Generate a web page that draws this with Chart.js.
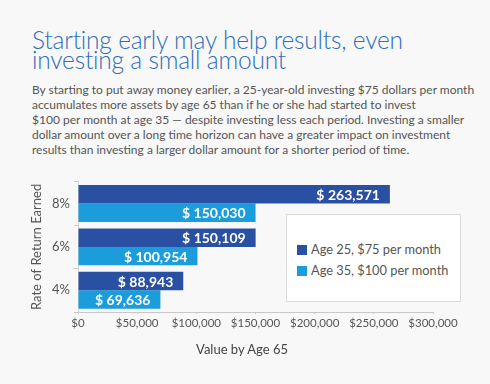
<!DOCTYPE html>
<html>
<head>
<meta charset="utf-8">
<script src="https://cdn.jsdelivr.net/npm/chart.js@4"></script>
<style>
  html, body { margin: 0; padding: 0; }
  body { width: 490px; height: 384px; background: #f8f8f8; position: relative; overflow: hidden; font-family: Lato, "Open Sans", sans-serif; }
  #title { position: absolute; left: 32px; top: 30px; margin: 0; font-weight: 300; font-size: 24.5px; line-height: 20px; color: #2e6dba; letter-spacing: -0.2px; white-space: nowrap; }
  #intro { position: absolute; left: 32px; top: 82px; margin: 0; font-size: 12px; line-height: 15px; color: #555; white-space: nowrap; }
  #wrap { position: absolute; left: 0; top: 170px; width: 490px; height: 214px; }
  #legend { position: absolute; left: 286px; top: 214px; width: 173px; height: 86px; background: #fff; border: 1px solid #dadada; }
  .item { position: absolute; left: 10px; font-size: 12.8px; color: #555; white-space: nowrap; }
  .item i { display: inline-block; width: 10px; height: 10px; margin-right: 4px; vertical-align: -1px; }
  #xtitle { position: absolute; left: 0; width: 484px; top: 341px; text-align: center; font-size: 13px; color: #444; }
</style>
</head>
<body>
<h1 id="title">Starting early may help results, even<br>investing a small amount</h1>
<p id="intro">By starting to put away money earlier, a 25-year-old investing $75 dollars per month<br>accumulates more assets by age 65 than if he or she had started to invest<br>$100 per month at age 35 — despite investing less each period. Investing a smaller<br>dollar amount over a long time horizon can have a greater impact on investment<br>results than investing a larger dollar amount for a shorter period of time.</p>
<div id="wrap"><canvas id="chart"></canvas></div>
<div id="legend"></div>
<div id="xtitle">Value by Age 65</div>
<script>
const rates = ['8%', '6%', '4%'];
const age25 = [263571, 150109, 88943];
const age35 = [150030, 100954, 69636];
const seriesNames = ['Age 25, $75 per month', 'Age 35, $100 per month'];
const xTicks = [0, 50000, 100000, 150000, 200000, 250000, 300000];

const colors = ['#2a50a3', '#1b9ddb'];
const money = v => '$' + v.toLocaleString('en-US');

// white value labels inside the bar ends
const barLabels = {
  id: 'barLabels',
  afterDatasetsDraw(chart) {
    const ctx = chart.ctx;
    ctx.save();
    ctx.font = 'bold 14px Lato, "Open Sans", sans-serif';
    ctx.fillStyle = '#fff';
    ctx.textAlign = 'right';
    ctx.textBaseline = 'middle';
    chart.data.datasets.forEach((ds, i) => {
      chart.getDatasetMeta(i).data.forEach((bar, j) => {
        ctx.fillText('$ ' + ds.data[j].toLocaleString('en-US'), bar.x - 10, bar.y + 1);
      });
    });
    ctx.restore();
  }
};

new Chart(document.getElementById('chart'), {
  type: 'bar',
  data: {
    labels: rates,
    datasets: [
      { label: seriesNames[0], data: age25, backgroundColor: colors[0] },
      { label: seriesNames[1], data: age35, backgroundColor: colors[1] }
    ]
  },
  options: {
    indexAxis: 'y',
    responsive: true,
    maintainAspectRatio: false,
    animation: false,
    layout: { padding: { top: 7, right: 57, left: 0, bottom: 0 } },
    datasets: { bar: { categoryPercentage: 0.85, barPercentage: 1.0 } },
    plugins: { legend: { display: false }, tooltip: { enabled: false } },
    scales: {
      x: {
        min: 0,
        max: 300000,
        afterBuildTicks: s => { s.ticks = xTicks.map(v => ({ value: v })); },
        afterFit: s => { s.height = 72; },
        grid: { drawOnChartArea: false, tickLength: 2, color: '#c8c8c8' },
        border: { color: '#c8c8c8' },
        ticks: { padding: 2, color: '#555', font: { family: 'Lato', size: 11.5 }, callback: v => money(v), maxRotation: 0 }
      },
      y: {
        afterFit: s => { s.width = 78; },
        grid: { drawOnChartArea: false, tickLength: 4, color: '#c8c8c8' },
        border: { color: '#d4d4d4' },
        ticks: { padding: 4, color: '#555', font: { family: 'Lato', size: 13 } },
        title: { display: true, text: 'Rate of Return Earned', color: '#555', font: { family: 'Lato', size: 13 }, padding: { top: 29, bottom: 0 } }
      }
    }
  },
  plugins: [barLabels]
});

// legend box
const legend = document.getElementById('legend');
seriesNames.forEach((name, i) => {
  const d = document.createElement('div');
  d.className = 'item';
  d.style.top = (26 + i * 21) + 'px';
  d.innerHTML = '<i style="background:' + colors[i] + '"></i>';
  d.appendChild(document.createTextNode(name));
  legend.appendChild(d);
});
</script>
</body>
</html>
